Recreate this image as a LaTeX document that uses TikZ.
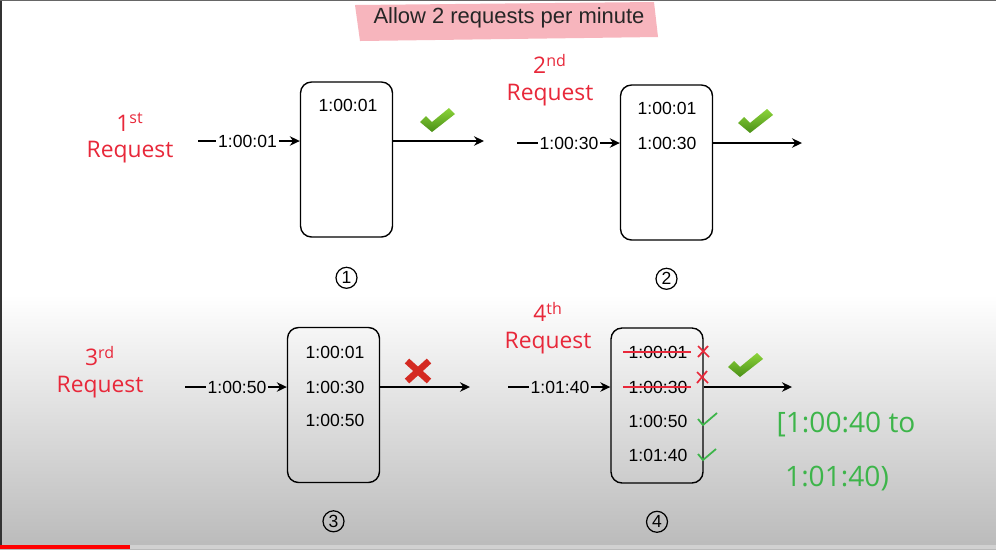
\documentclass[tikz,border=0pt]{standalone}
\usepackage{fontspec}
\setmainfont{Liberation Sans}
\newfontfamily\inkfont{Open Sans}
\usepackage{xcolor}
\usetikzlibrary{arrows.meta, positioning, shapes.geometric}
\definecolor{inkred}   {HTML}{E8283A}
\definecolor{inkgreen} {HTML}{3DB54A}
\definecolor{marker}   {HTML}{F7AEB6}
\definecolor{okgreen}  {HTML}{4A8F17}
\definecolor{oklight}  {HTML}{8CD43A}
\definecolor{nored}    {HTML}{D42A22}

\begin{document}
\begin{tikzpicture}[x=0.02cm, y=-0.02cm,
    win/.style={draw, line width=0.8pt, rounded corners=0.22cm,
                minimum width=1.84cm, minimum height=3.1cm},
    ts/.style={font=\fontsize{10}{12}\selectfont, inner sep=1pt},
    num/.style={draw, circle, line width=0.7pt, minimum size=0.42cm,
                inner sep=0pt, font=\fontsize{10}{12}\selectfont},
    arr/.style={-{Stealth[length=2mm, width=1.9mm]}, line width=0.8pt},
    ink/.style={inkred, align=center, font=\inkfont\fontsize{13}{15}\selectfont},
    inkg/.style={inkgreen, font=\inkfont\fontsize{16}{18}\selectfont},
    strike/.style={inkred, line width=1.3pt},
    okmark/.pic={\shade[top color=oklight, bottom color=okgreen]
                 (-17,-1) -- (-11,-7) -- (-5,-1) -- (12,-15) -- (18,-9) -- (-5,9) -- cycle;},
    nomark/.pic={\draw[nored, line width=0.13cm]
                 (-11,-10) -- (11,10) (-11,10) -- (11,-10);},
  ]
    % backdrop of the video frame
    \useasboundingbox (0,0) rectangle (996,549);
    \fill[white] (0,0) rectangle (996,549);
    \shade[top color=white, bottom color=black!27] (0,295) rectangle (996,549);
    \fill[black!80] (0,0) rectangle (2,549);
    \fill[black!60] (0,0) rectangle (996,1);
    \fill[black!18] (0,545) rectangle (996,549);
    \fill[red] (0,545) rectangle (130,549);

    % title
    \fill[marker, opacity=0.9] (355,5) -- (654,2) -- (658,37) -- (360,41) -- cycle;
    \node[font=\fontsize{12.5}{15}\selectfont, text=black!85] (title) at (509,18)
      {Allow 2 requests per minute};

    % windows
    \node[win] (box1) at (346.5,159.5) {};
    \node[win] (box2) at (666.5,162.5) {};
    \node[win] (box3) at (333.5,405) {};
    \node[win] (box4) at (657,405.5) {};

    \node[num, below=0.58cm of box1] (n1) {1};
    \node[num, below=0.54cm of box2] (n2) {2};
    \node[num, below=0.54cm of box3] (n3) {3};
    \node[num, below=0.54cm of box4] (n4) {4};

    % time stamps
    \node[ts] (t11) at (348,105) {1:00:01};
    \node[ts] (t21) at (667,108) {1:00:01};
    \node[ts] (t22) at (667,143) {1:00:30};
    \node[ts] (t31) at (335,352) {1:00:01};
    \node[ts] (t32) at (335,387) {1:00:30};
    \node[ts] (t33) at (335,420) {1:00:50};
    \node[ts] (t41) at (658,352) {1:00:01};
    \node[ts] (t42) at (658,387) {1:00:30};
    \node[ts] (t43) at (658,421) {1:00:50};
    \node[ts] (t44) at (658,455) {1:01:40};

    % incoming requests
    \coordinate (s1) at (198,141);
    \coordinate (s2) at (517,143);
    \coordinate (s3) at (185,387);
    \coordinate (s4) at (508,387);
    \node[ts] (r1) at (247.5,141) {1:00:01};
    \node[ts] (r2) at (569,143) {1:00:30};
    \node[ts] (r3) at (237,387) {1:00:50};
    \node[ts] (r4) at (560,387) {1:01:40};
    \draw[line width=0.8pt] (s1) -- (r1.west);
    \draw[line width=0.8pt] (s2) -- (r2.west);
    \draw[line width=0.8pt] (s3) -- (r3.west);
    \draw[line width=0.8pt] (s4) -- (r4.west);
    \draw[arr] (r1.east) -- (r1.east -| box1.west);
    \draw[arr] (r2.east) -- (r2.east -| box2.west);
    \draw[arr] (r3.east) -- (r3.east -| box3.west);
    \draw[arr] (r4.east) -- (r4.east -| box4.west);

    % outgoing
    \coordinate (e1) at (484,141);
    \coordinate (e2) at (802,143);
    \coordinate (e3) at (470,387);
    \coordinate (e4) at (792,387);
    \draw[arr] (e1 -| box1.east) -- (e1);
    \draw[arr] (e2 -| box2.east) -- (e2);
    \draw[arr] (e3 -| box3.east) -- (e3);
    \draw[arr] (e4 -| box4.east) -- (e4);

    \pic at (437,123) {okmark};
    \pic at (755,124) {okmark};
    \pic at (418,371) {nomark};
    \pic at (745,368) {okmark};

    % notes by hand
    \node[ink] (q1) at (130,138) {1\textsuperscript{st}\\Request};
    \node[ink] (q2) at (550,80) {2\textsuperscript{nd}\\Request};
    \node[ink] (q3) at (100,372) {3\textsuperscript{rd}\\Request};
    \node[ink] (q4) at (548,328) {4\textsuperscript{th}\\Request};

    \draw[strike] ([xshift=-2pt]t41.west) -- ([xshift=1pt]t41.east);
    \draw[strike] ([xshift=-2pt]t42.west) -- ([xshift=1pt]t42.east);
    \draw[inkred, line width=1pt] (698,346) -- (709,357) (698,357) -- (708,346);
    \draw[inkred, line width=1pt] (697,372) -- (708,383) (697,383) -- (707,371);
    \draw[inkgreen, line width=1pt] (698,419) -- (703,425) -- (717,413);
    \draw[inkgreen, line width=1pt] (698,454) -- (703,460) -- (716,449);

    \node[inkg] (w1) at (846,425) {[1:00:40 to};
    \node[inkg] (w2) at (837,479) {1:01:40)};
  \end{tikzpicture}
\end{document}
